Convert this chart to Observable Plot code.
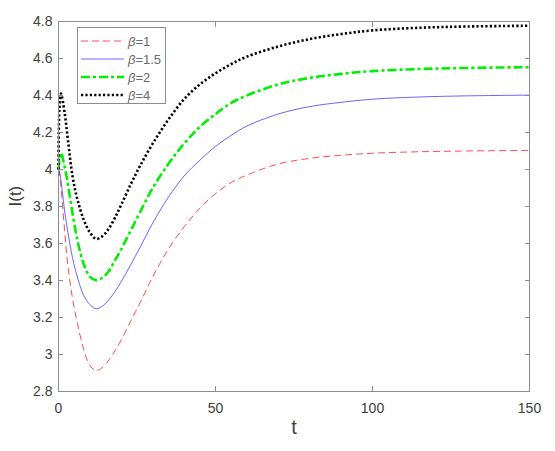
<!DOCTYPE html>
<html>
<head>
<meta charset="utf-8">
<script src="https://cdn.jsdelivr.net/npm/d3@7"></script>
<script src="https://cdn.jsdelivr.net/npm/@observablehq/plot@0.6"></script>
<style>
  body { margin: 0; background: #fff; font-family: "Liberation Sans", Arial, sans-serif; }
  #chart { position: relative; width: 555px; height: 451px; }
  #legend {
    position: absolute; left: 77px; top: 27px; width: 87px; height: 75px;
    border: 1px solid #8c8c8c; background: #fff;
  }
  .row {
    position: absolute; left: 3px; height: 18px; display: flex; align-items: center;
    font-size: 13px; color: #6a6a6a; white-space: nowrap;
  }
  .row span { margin-left: 4px; }
</style>
</head>
<body>
<div id="chart"></div>
<script>
// I(t) for several beta values
const tValues = [0, 0.3, 0.8, 2, 3, 4.5, 6, 8, 10, 12, 14, 16, 18, 20, 23, 26, 30, 35, 40, 45, 50, 55, 60, 70, 80, 90, 100, 115, 130, 150];
const iBeta1  = [4.0, 3.98, 3.90, 3.66, 3.48, 3.30, 3.17, 3.03, 2.94, 2.913, 2.93, 2.97, 3.02, 3.08, 3.18, 3.28, 3.42, 3.57, 3.69, 3.79, 3.87, 3.93, 3.97, 4.03, 4.06, 4.077, 4.088, 4.096, 4.100, 4.103];
const iBeta15 = [4.0, 3.99, 3.94, 3.77, 3.66, 3.52, 3.42, 3.32, 3.27, 3.247, 3.262, 3.295, 3.34, 3.395, 3.485, 3.58, 3.71, 3.85, 3.965, 4.05, 4.125, 4.185, 4.235, 4.30, 4.34, 4.363, 4.38, 4.392, 4.398, 4.402];
const iBeta2  = [4.0, 4.05, 4.09, 4.01, 3.92, 3.76, 3.62, 3.49, 3.42, 3.402, 3.415, 3.45, 3.51, 3.57, 3.67, 3.77, 3.90, 4.03, 4.14, 4.23, 4.30, 4.36, 4.40, 4.46, 4.495, 4.517, 4.532, 4.543, 4.549, 4.553];
const iBeta4  = [4.0, 4.33, 4.41, 4.30, 4.16, 3.96, 3.84, 3.73, 3.66, 3.625, 3.64, 3.68, 3.74, 3.81, 3.92, 4.02, 4.14, 4.27, 4.38, 4.46, 4.52, 4.57, 4.61, 4.665, 4.705, 4.732, 4.752, 4.766, 4.773, 4.777];

const seriesNames = ["β=1", "β=1.5", "β=2", "β=4"];
const seriesValues = [iBeta1, iBeta15, iBeta2, iBeta4];

const xTicks = [0, 50, 100, 150];
const yTicks = [2.8, 3, 3.2, 3.4, 3.6, 3.8, 4, 4.2, 4.4, 4.6, 4.8];

// line styles, same order as seriesNames
const STYLES = [
  { stroke: "#ff0000", width: 0.7, dash: "7,4" },
  { stroke: "#0000ff", width: 0.6, dash: null },
  { stroke: "#00ee00", width: 2.6, dash: "9,3,3,3" },
  { stroke: "#000000", width: 2.6, dash: "2.2,2.2" },
];

const AXIS_GRAY = "#8c8c8c";
const TEXT_GRAY = "#404040";

const rows = [];
seriesNames.forEach((name, k) => {
  tValues.forEach((t, i) => rows.push({ t, v: seriesValues[k][i], series: name, k }));
});

const lineMarks = seriesNames.map((name, k) =>
  Plot.line(rows.filter((d) => d.k === k), {
    x: "t", y: "v", curve: "catmull-rom",
    stroke: STYLES[k].stroke, strokeWidth: STYLES[k].width,
    strokeDasharray: STYLES[k].dash || undefined,
    strokeLinecap: "butt", strokeLinejoin: "miter",
  })
);

const fmtY = (d) => String(+d.toFixed(1));

const plot = Plot.plot({
  width: 555,
  height: 451,
  marginLeft: 58,
  marginRight: 26,
  marginTop: 21,
  marginBottom: 60,
  style: { fontFamily: '"Liberation Sans", Arial, sans-serif', background: "#fff" },
  x: { domain: [0, 150] },
  y: { domain: [2.8, 4.8] },
  marks: [
    ...lineMarks,
    Plot.frame({ stroke: AXIS_GRAY }),
    // inward ticks on all four sides
    Plot.axisX(xTicks, { anchor: "bottom", tickSize: -5, text: null, label: null, stroke: AXIS_GRAY }),
    Plot.axisX(xTicks, { anchor: "top", tickSize: -5, text: null, label: null, stroke: AXIS_GRAY }),
    Plot.axisY(yTicks, { anchor: "left", tickSize: -5, text: null, label: null, stroke: AXIS_GRAY }),
    Plot.axisY(yTicks, { anchor: "right", tickSize: -5, text: null, label: null, stroke: AXIS_GRAY }),
    // tick labels
    Plot.axisX(xTicks, { anchor: "bottom", tickSize: 0, tickPadding: 12, fontSize: 14, fill: TEXT_GRAY, label: null }),
    Plot.axisY(yTicks, { anchor: "left", tickSize: 0, tickPadding: 6, fontSize: 14, fill: TEXT_GRAY, label: null, tickFormat: fmtY }),
    // axis titles
    Plot.text(["t"], { text: (d) => d, frameAnchor: "bottom", dy: 42, fontSize: 20, fill: TEXT_GRAY }),
    Plot.text(["I(t)"], { text: (d) => d, frameAnchor: "left", rotate: -90, dx: -43, fontSize: 17, fill: TEXT_GRAY }),
  ],
});

const chart = document.getElementById("chart");
chart.appendChild(plot);

// legend box inside the axes (top-left)
const legend = document.createElement("div");
legend.id = "legend";
seriesNames.forEach((name, k) => {
  const s = STYLES[k];
  const row = document.createElement("div");
  row.className = "row";
  row.style.top = (4 + k * 18) + "px";
  const [greek, rest] = [name.slice(0, 1), name.slice(1)];
  row.innerHTML =
    `<svg width="43" height="8"><line x1="0" x2="43" y1="4" y2="4" stroke="${s.stroke}" stroke-width="${s.width}"` +
    (s.dash ? ` stroke-dasharray="${s.dash}"` : "") + `/></svg>` +
    `<span><i>${greek}</i>${rest}</span>`;
  legend.appendChild(row);
});
chart.appendChild(legend);
</script>
</body>
</html>
